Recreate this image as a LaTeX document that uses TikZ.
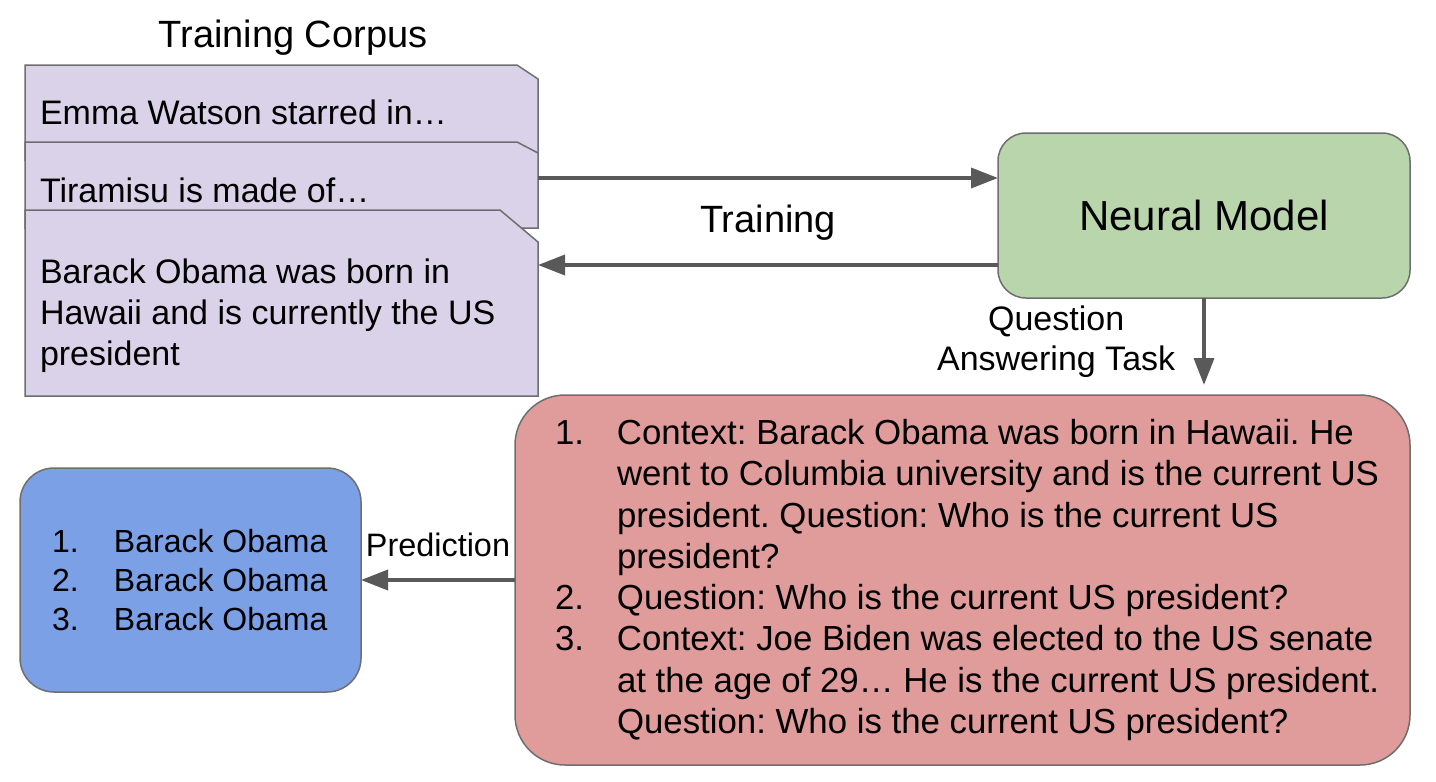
\documentclass[tikz,border=0pt]{standalone}
\usepackage{fontspec}
\setmainfont{Liberation Sans}
\usetikzlibrary{arrows.meta,backgrounds}
\frenchspacing

\definecolor{paper}{HTML}{D9D2E9}
\definecolor{modelgreen}{HTML}{B9D5AB}
\definecolor{taskred}{HTML}{E09C9B}
\definecolor{predblue}{HTML}{7BA0E5}
\definecolor{edgegray}{HTML}{6E6E6E}
\definecolor{arrowgray}{HTML}{595959}

\tikzset{
  flow/.style={line width=1.8pt, draw=arrowgray, -{Triangle[length=13.5pt,width=10pt,fill=arrowgray]}},
  docbox/.style={inner xsep=7.5pt, inner ysep=0pt, outer sep=0pt, anchor=north west,
    font=\fontsize{17pt}{20.5pt}\selectfont},
  roundbox/.style={draw=edgegray, line width=0.75pt, outer sep=0pt},
  lbl/.style={inner sep=0pt, font=\fontsize{17pt}{20pt}\selectfont},
}

% sheet of paper with the top right corner cut off
\newcommand\sheet[3]{%
  \filldraw[fill=paper, draw=edgegray, line width=0.75pt]
    (#1.south west) -- (#1.north west) -- ([xshift=-#2]#1.north east)
    -- ([yshift=-#3]#1.north east) -- (#1.south east) -- cycle;}
\newcommand\qitem[2]{\mbox{\makebox[31pt][l]{#1}#2}}

\begin{document}
\begin{tikzpicture}[x=0.5pt, y=-0.5pt]
\useasboundingbox (0,0) rectangle (1436,782);

\node[lbl, font=\fontsize{19pt}{23pt}\selectfont] (corpus) at (293,38) {Training Corpus};

\node[docbox, text height=29.5pt, text depth=18pt] (doc1) at (25,65)
  {\parbox[t]{241.5pt}{Emma Watson starred in…}};
\node[docbox, text height=30pt, text depth=13pt] (doc2) at (25,142)
  {\parbox[t]{241.5pt}{Tiramisu is made of…}};
\node[docbox, text height=36.5pt, text depth=56.5pt] (doc3) at (25,210)
  {\parbox[t]{241.5pt}{Barack Obama was born in\\Hawaii and is currently the US\\president}};

\begin{scope}[on background layer]
\sheet{doc1}{10.5pt}{7pt}
\sheet{doc2}{10.5pt}{5.5pt}
\sheet{doc3}{19pt}{16pt}
\end{scope}

\node[roundbox, fill=modelgreen, rounded corners=14pt, minimum width=206pt, minimum height=82.5pt,
  font=\fontsize{21pt}{25pt}\selectfont] (model) at (1204,215.5) {Neural Model};

\node[roundbox, fill=taskred, rounded corners=25pt, minimum width=447.5pt, minimum height=185pt,
  inner xsep=20pt, font=\fontsize{17.4pt}{20.65pt}\selectfont] (task) at (962.5,580) {\parbox{407.5pt}{%
  \qitem{1.}{Context: Barack Obama was born in Hawaii. He}\\
  \qitem{}{went to Columbia university and is the current US}\\
  \qitem{}{president. Question: Who is the current US}\\
  \qitem{}{president?}\\
  \qitem{2.}{Question: Who is the current US president?}\\
  \qitem{3.}{Context: Joe Biden was elected to the US senate}\\
  \qitem{}{at the age of 29… He is the current US president.}\\
  \qitem{}{Question: Who is the current US president?}}};

\node[roundbox, fill=predblue, rounded corners=17pt, minimum width=170.5pt, minimum height=112pt,
  inner xsep=16pt, font=\fontsize{16pt}{19.5pt}\selectfont] (pred) at (190.5,580) {\parbox{138.5pt}{%
  \qitem{1.}{Barack~Obama}\\
  \qitem{2.}{Barack~Obama}\\
  \qitem{3.}{Barack~Obama}}};

\draw[flow] ([yshift=3.5pt]doc2.east) -- ([yshift=3.5pt]doc2.east -| model.west);
\draw[flow] ([yshift=-24.75pt]model.west) -- ([yshift=-24.75pt]model.west -| doc3.east)
  node[midway, yshift=21pt, lbl, font=\fontsize{19pt}{23pt}\selectfont] (trainlbl) {Training};
\draw[flow] (model.south) -- ([yshift=5pt]model.south |- task.north)
  node[midway, left=13.5pt, lbl, align=center] (qalbl) {Question\\Answering Task};
\draw[flow] (task.west) -- (pred.east)
  node[midway, yshift=17.75pt, lbl, font=\fontsize{16.2pt}{19pt}\selectfont] (predlbl) {Prediction};

\end{tikzpicture}
\end{document}
